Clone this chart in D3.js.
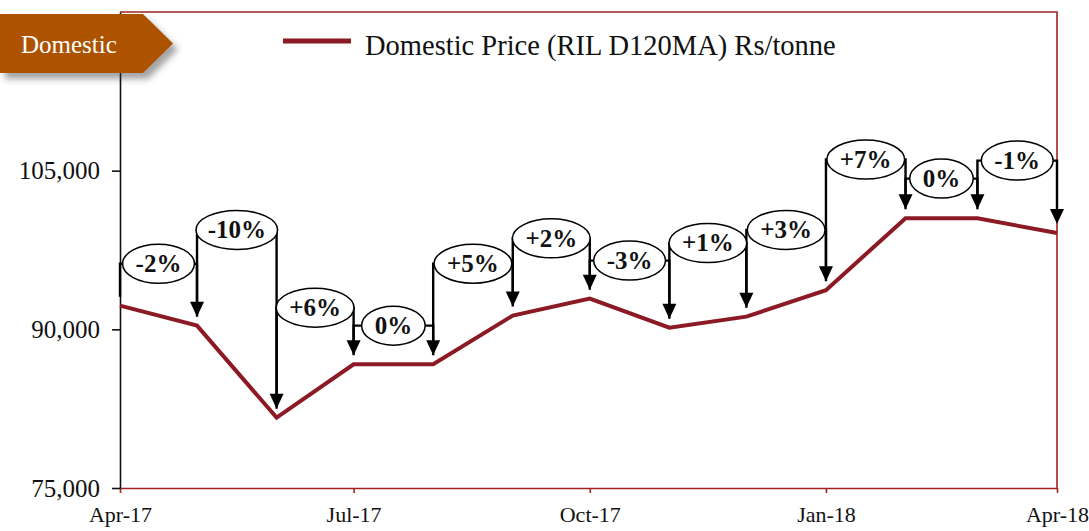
<!DOCTYPE html>
<html>
<head>
<meta charset="utf-8">
<script src="https://cdn.jsdelivr.net/npm/d3@7"></script>
<style>
  body { margin: 0; background: #ffffff; }
  svg { display: block; }
</style>
</head>
<body>
<svg id="chart" width="1089" height="531"></svg>
<script>
// Monthly domestic price series (Rs/tonne)
const months = ["2017-04-01", "2017-05-01", "2017-06-01", "2017-07-01", "2017-08-01", "2017-09-01",
                "2017-10-01", "2017-11-01", "2017-12-01", "2018-01-01", "2018-02-01", "2018-03-01", "2018-04-01"];
const prices = [92240, 90350, 81650, 86700, 86700, 91300, 92900, 90160, 91200, 93700, 100500, 100500, 99100];

// Month-on-month change labels and the price level each change bracket sits at
const changeLabels = ["-2%", "-10%", "+6%", "0%", "+5%", "+2%", "-3%", "+1%", "+3%", "+7%", "0%", "-1%"];
const bracketLevels = [96200, 99400, 92050, 90350, 96200, 98600, 96500, 98150, 99400, 106050, 104250, 105950];

const yTicks = [75000, 90000, 105000];
const seriesName = "Domestic Price (RIL D120MA) Rs/tonne";
const sectionTag = "Domestic";

const parse = d3.timeParse("%Y-%m-%d");
const dates = months.map(parse);

const plot = { left: 120, right: 1057, top: 12, bottom: 488 };

const lineColor = "#8c1a24";
const frameColor = "#a02323";
const serif = "'Liberation Serif', 'Times New Roman', serif";

const svg = d3.select("#chart");

const defs = svg.append("defs");
const shadow = defs.append("filter").attr("id", "tagShadow")
  .attr("x", "-10%").attr("y", "-20%").attr("width", "130%").attr("height", "160%");
shadow.append("feDropShadow")
  .attr("dx", 5).attr("dy", 6).attr("stdDeviation", 3)
  .attr("flood-color", "#333").attr("flood-opacity", 0.45);

const x = d3.scaleTime()
  .domain([dates[0], dates[dates.length - 1]])
  .range([plot.left, plot.right]);

const y = d3.scaleLinear()
  .domain([75000, 120000])
  .range([plot.bottom, plot.top]);

// Plot frame (top and right edges)
svg.append("path")
  .attr("d", `M${plot.left},${plot.top}H${plot.right}V${plot.bottom}`)
  .attr("fill", "none")
  .attr("stroke", frameColor)
  .attr("stroke-width", 1.6);

// Bottom axis
const xAxis = svg.append("g")
  .attr("transform", `translate(0,${plot.bottom})`)
  .call(d3.axisBottom(x)
    .ticks(d3.timeMonth.every(3))
    .tickFormat(d3.timeFormat("%b-%y"))
    .tickSize(5)
    .tickSizeOuter(0)
    .tickPadding(13));
xAxis.select(".domain").attr("stroke", frameColor).attr("stroke-width", 1.6);
xAxis.selectAll(".tick line").attr("stroke", frameColor).attr("stroke-width", 1.6);
xAxis.selectAll(".tick text")
  .attr("font-family", serif).attr("font-size", 22).attr("fill", "#111");

// Left axis
const yAxis = svg.append("g")
  .attr("transform", `translate(${plot.left},0)`)
  .call(d3.axisLeft(y)
    .tickValues(yTicks)
    .tickFormat(d3.format(","))
    .tickSize(8)
    .tickSizeOuter(0)
    .tickPadding(12));
yAxis.select(".domain").attr("stroke", "#111").attr("stroke-width", 1.6);
yAxis.selectAll(".tick line").attr("stroke", "#111").attr("stroke-width", 1.6);
yAxis.selectAll(".tick text")
  .attr("font-family", serif).attr("font-size", 25).attr("fill", "#111");

// Price line
const line = d3.line()
  .x((d, i) => x(dates[i]))
  .y(d => y(d));

svg.append("path")
  .datum(prices)
  .attr("d", line)
  .attr("fill", "none")
  .attr("stroke", lineColor)
  .attr("stroke-width", 4)
  .attr("stroke-linejoin", "miter");

// Change brackets: left leg, cross bar, arrow down to the next month
const gap = 9, headLen = 15, headHalf = 7;
const brackets = svg.append("g").attr("class", "brackets");

changeLabels.forEach((label, i) => {
  const x0 = x(dates[i]), x1 = x(dates[i + 1]);
  const yb = y(bracketLevels[i]);
  const yStart = y(prices[i]) - gap;
  const tip = y(prices[i + 1]) - gap;
  const g = brackets.append("g");

  g.append("path")
    .attr("d", `M${x0},${yStart}V${yb}H${x1}V${tip - headLen + 1}`)
    .attr("fill", "none")
    .attr("stroke", "#000")
    .attr("stroke-width", 2.4);

  g.append("path")
    .attr("d", `M${x1 - headHalf},${tip - headLen}L${x1 + headHalf},${tip - headLen}L${x1},${tip}Z`)
    .attr("fill", "#000");
});

// Change labels in ellipses, drawn above all bracket lines
const bubbles = svg.append("g").attr("class", "bubbles");
changeLabels.forEach((label, i) => {
  const x0 = x(dates[i]), x1 = x(dates[i + 1]);
  const cx = (x0 + x1) / 2;
  const cy = y(bracketLevels[i]);
  const g = bubbles.append("g");
  const ell = g.append("ellipse")
    .attr("cx", cx).attr("cy", cy)
    .attr("fill", "#fff")
    .attr("stroke", "#000")
    .attr("stroke-width", 1.5);
  const t = g.append("text")
    .attr("x", cx).attr("y", cy)
    .attr("dy", "0.33em")
    .attr("text-anchor", "middle")
    .attr("font-family", serif)
    .attr("font-weight", "bold")
    .attr("font-size", 25)
    .attr("fill", "#111")
    .text(label);
  const w = t.node().getComputedTextLength();
  ell.attr("rx", Math.min(w / 2 + 13, (x1 - x0) / 2 + 1)).attr("ry", 19.5);
});

// Legend
svg.append("line")
  .attr("x1", 283).attr("x2", 351)
  .attr("y1", 41).attr("y2", 41)
  .attr("stroke", lineColor)
  .attr("stroke-width", 5);
svg.append("text")
  .attr("x", 365).attr("y", 55)
  .attr("font-family", serif)
  .attr("font-size", 28.5)
  .attr("fill", "#111")
  .text(seriesName);

// Section tag
const tag = svg.append("g");
tag.append("path")
  .attr("d", "M0,14H143L173,43.5L143,73H0Z")
  .attr("fill", "#ad5200")
  .attr("filter", "url(#tagShadow)");
tag.append("text")
  .attr("x", 21).attr("y", 53)
  .attr("font-family", serif)
  .attr("font-size", 25)
  .attr("fill", "#fff")
  .text(sectionTag);
</script>
</body>
</html>
